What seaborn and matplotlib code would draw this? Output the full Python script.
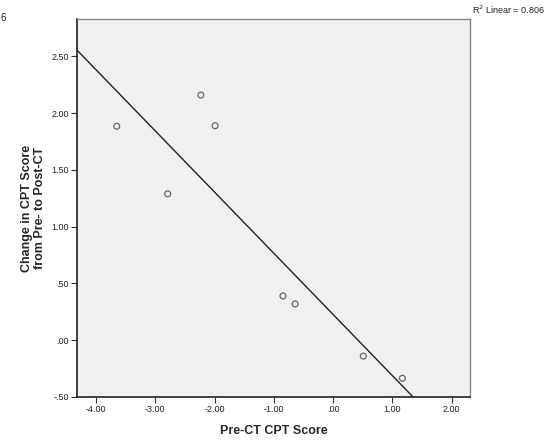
import matplotlib
matplotlib.use("Agg")
import matplotlib.pyplot as plt
import seaborn as sns
import pandas as pd

pre_ct = [-3.65, -2.23, -1.99, -2.79, -0.845, -0.64, 0.51, 1.17]
change = [1.885, 2.16, 1.89, 1.29, 0.39, 0.32, -0.14, -0.335]
x_ticks = [-4, -3, -2, -1, 0, 1, 2]
x_tick_labels = ["-4.00", "-3.00", "-2.00", "-1.00", ".00", "1.00", "2.00"]
y_ticks = [-0.5, 0, 0.5, 1.0, 1.5, 2.0, 2.5]
y_tick_labels = ["-.50", ".00", ".50", "1.00", "1.50", "2.00", "2.50"]
r2_text = "R$^2$ Linear = 0.806"

df = pd.DataFrame({"Pre-CT CPT Score": pre_ct,
                   "Change in CPT Score": change})

sns.set_style("white")
plt.rcParams["font.family"] = ["Liberation Sans", "DejaVu Sans"]

fig = plt.figure(figsize=(5.59, 4.42), dpi=100)
ax = fig.add_axes([77/559, 45/442, (470-77)/559, (397-19)/442])
ax.set_facecolor("#F0F0F0")
ax.set_xlim(-4.32, 2.31)
ax.set_ylim(-0.5, 2.83)

sns.regplot(data=df, x="Pre-CT CPT Score", y="Change in CPT Score", ax=ax,
            ci=None, truncate=False,
            scatter_kws=dict(facecolors="none", edgecolors="#444444",
                             linewidths=0.9, s=18),
            line_kws=dict(color="#222222", linewidth=1.0))
ax.set_xlim(-4.32, 2.31)
ax.set_ylim(-0.5, 2.83)

ax.set_xticks(x_ticks)
ax.set_xticklabels(x_tick_labels)
ax.set_yticks(y_ticks)
ax.set_yticklabels(y_tick_labels)
ax.tick_params(axis="both", which="major", direction="out", length=4,
               width=0.8, color="#333333", labelsize=6.5, labelcolor="#222222",
               bottom=True, left=True, pad=2)

for side in ["left", "bottom"]:
    ax.spines[side].set_color("#222222")
    ax.spines[side].set_linewidth(1.2)
for side in ["top", "right"]:
    ax.spines[side].set_color("#888888")
    ax.spines[side].set_linewidth(1.0)

ax.set_xlabel("Pre-CT CPT Score", fontsize=9, fontweight="bold", labelpad=8)
ax.set_ylabel("Change in CPT Score\nfrom Pre- to Post-CT", fontsize=9,
              fontweight="bold", labelpad=4, linespacing=1.05)

fig.text(472/559, 1 - 10/442, r2_text, fontsize=6.5, ha="left", va="center",
         color="#222222")
fig.text(0.5/559, 1 - 18/442, "6", fontsize=7, ha="left", va="center",
         color="#222222")

fig.savefig("out.png", dpi=100)
